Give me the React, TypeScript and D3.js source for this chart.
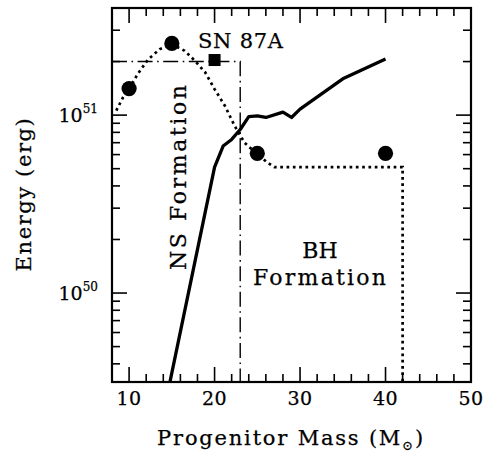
import React from "react";
import * as d3 from "d3";

const W = 486;
const H = 454;
const margin = { top: 8, right: 15, bottom: 72, left: 112 };

// data (mass in solar masses, energy in erg)
const xDomain: [number, number] = [8, 50];
const yDomain: [number, number] = [Math.pow(10, 49.5), 4e51];
const xMajorTicks = [10, 20, 30, 40, 50];
const yMajorTicks = [1e50, 1e51];
const yTickExponents = ["50", "51"];

const explosionCurve: [number, number][] = [
  [14.8, 3.2e49], [20, 5.1e50], [21, 6.7e50], [22, 7.3e50], [23, 8.3e50],
  [24, 9.8e50], [25, 9.9e50], [26, 9.7e50], [28, 1.04e51], [29, 9.7e50],
  [30, 1.08e51], [35, 1.6e51], [40, 2.07e51],
];

const modelCurve: [number, number][] = [
  [8.5, 1.06e51], [9.3, 1.26e51], [10, 1.4e51], [11, 1.7e51], [12.2, 2.05e51],
  [13.6, 2.35e51], [15, 2.5e51], [16.5, 2.3e51], [17.7, 2.02e51],
  [18.9, 1.74e51], [20, 1.4e51], [21.2, 1.13e51], [22.35, 8.7e50],
  [23.5, 7.0e50], [24.7, 6.2e50], [26.2, 5.4e50], [27, 5.1e50],
  [42, 5.1e50], [42, Math.pow(10, 49.5)],
];

const modelPoints: [number, number][] = [
  [10, 1.41e51], [15, 2.53e51], [25, 6.1e50], [40, 6.1e50],
];

const sn87a: [number, number] = [20, 2.04e51];
const nsBoundary: [number, number][] = [
  [8, 2e51], [23, 2e51], [23, Math.pow(10, 49.5)],
];

const FONT = "'DejaVu Serif', serif";

export default function App() {
  const x = d3.scaleLinear().domain(xDomain).range([margin.left, W - margin.right]);
  const y = d3.scaleLog().domain(yDomain).range([H - margin.bottom, margin.top]);
  const [x0, x1] = x.range();
  const [y0, y1] = y.range(); // y0 bottom, y1 top

  const line = d3
    .line<[number, number]>()
    .x((d) => x(d[0]))
    .y((d) => y(d[1]));

  const xMinor = d3.range(8, 50.01, 2).filter((v) => !xMajorTicks.includes(v));
  const yMinor: number[] = [];
  for (let e = 49; e <= 51; e++) {
    for (let m = 2; m <= 9; m++) {
      const v = m * Math.pow(10, e);
      if (v > yDomain[0] && v < yDomain[1]) yMinor.push(v);
    }
  }

  const major = 15;
  const minor = 8;

  return (
    <div style={{ position: "absolute", left: 0, top: 0 }}>
      <svg width={W} height={H} style={{ display: "block", background: "#fff" }}>
        <defs>
          <clipPath id="plot">
            <rect x={x0} y={y1} width={x1 - x0} height={y0 - y1} />
          </clipPath>
        </defs>

        {/* ticks on all four sides */}
        <g stroke="#000" strokeWidth={1.6}>
          {xMajorTicks.filter((v) => v < 50).map((v) => (
            <g key={"xM" + v}>
              <line x1={x(v)} x2={x(v)} y1={y0} y2={y0 - major} />
              <line x1={x(v)} x2={x(v)} y1={y1} y2={y1 + major} />
            </g>
          ))}
          {xMinor.map((v) => (
            <g key={"xm" + v}>
              <line x1={x(v)} x2={x(v)} y1={y0} y2={y0 - minor} />
              <line x1={x(v)} x2={x(v)} y1={y1} y2={y1 + minor} />
            </g>
          ))}
          {yMajorTicks.map((v) => (
            <g key={"yM" + v}>
              <line x1={x0} x2={x0 + major} y1={y(v)} y2={y(v)} />
              <line x1={x1} x2={x1 - major} y1={y(v)} y2={y(v)} />
            </g>
          ))}
          {yMinor.map((v) => (
            <g key={"ym" + v}>
              <line x1={x0} x2={x0 + minor} y1={y(v)} y2={y(v)} />
              <line x1={x1} x2={x1 - minor} y1={y(v)} y2={y(v)} />
            </g>
          ))}
        </g>

        <g clipPath="url(#plot)" fill="none" stroke="#000">
          <path d={line(nsBoundary) ?? ""} strokeWidth={1.4} strokeDasharray="15 4.5 1.6 4.5" />
          <path d={line(modelCurve) ?? ""} strokeWidth={2.7} strokeDasharray="2.7 3.6" />
          <path d={line(explosionCurve) ?? ""} strokeWidth={3.3} strokeLinejoin="round" />
        </g>

        {modelPoints.map((d, i) => (
          <circle key={i} cx={x(d[0])} cy={y(d[1])} r={7.6} fill="#000" />
        ))}
        <rect x={x(sn87a[0]) - 6} y={y(sn87a[1]) - 6} width={12} height={12} fill="#000" />

        {/* frame */}
        <rect x={x0} y={y1} width={x1 - x0} height={y0 - y1} fill="none" stroke="#000" strokeWidth={2.2} />

        <g fontFamily={FONT} fill="#000" stroke="#000" strokeWidth={0.25}>
          {xMajorTicks.map((v) => (
            <text key={"xl" + v} x={x(v)} y={405} fontSize={19} textAnchor="middle" letterSpacing={0.5}>
              {v}
            </text>
          ))}
          {yMajorTicks.map((v, i) => (
            <text key={"yl" + v} x={x0 - 14} y={y(v) + 7} fontSize={19} textAnchor="end">
              10
              <tspan fontSize={12} dy={-9}>{yTickExponents[i]}</tspan>
            </text>
          ))}

          <text x={291} y={445} fontSize={21} textAnchor="middle" letterSpacing={1.8}>
            Progenitor Mass (M
            <tspan fontSize={13} dy={5}>⊙</tspan>
            <tspan dy={-5}>)</tspan>
          </text>
          <text
            transform="translate(31,194) rotate(-90)"
            fontSize={21}
            textAnchor="middle"
            letterSpacing={1.6}
          >
            Energy (erg)
          </text>

          <text x={198} y={48} fontSize={21} textLength={85} lengthAdjust="spacing">
            SN 87A
          </text>
          <text
            transform="translate(186,270) rotate(-90)"
            fontSize={22}
            textLength={185}
            lengthAdjust="spacing"
          >
            NS Formation
          </text>
          <text x={320} y={258} fontSize={22} textAnchor="middle">
            BH
          </text>
          <text x={253} y={285} fontSize={22} textLength={133} lengthAdjust="spacing">
            Formation
          </text>
        </g>
      </svg>
    </div>
  );
}
